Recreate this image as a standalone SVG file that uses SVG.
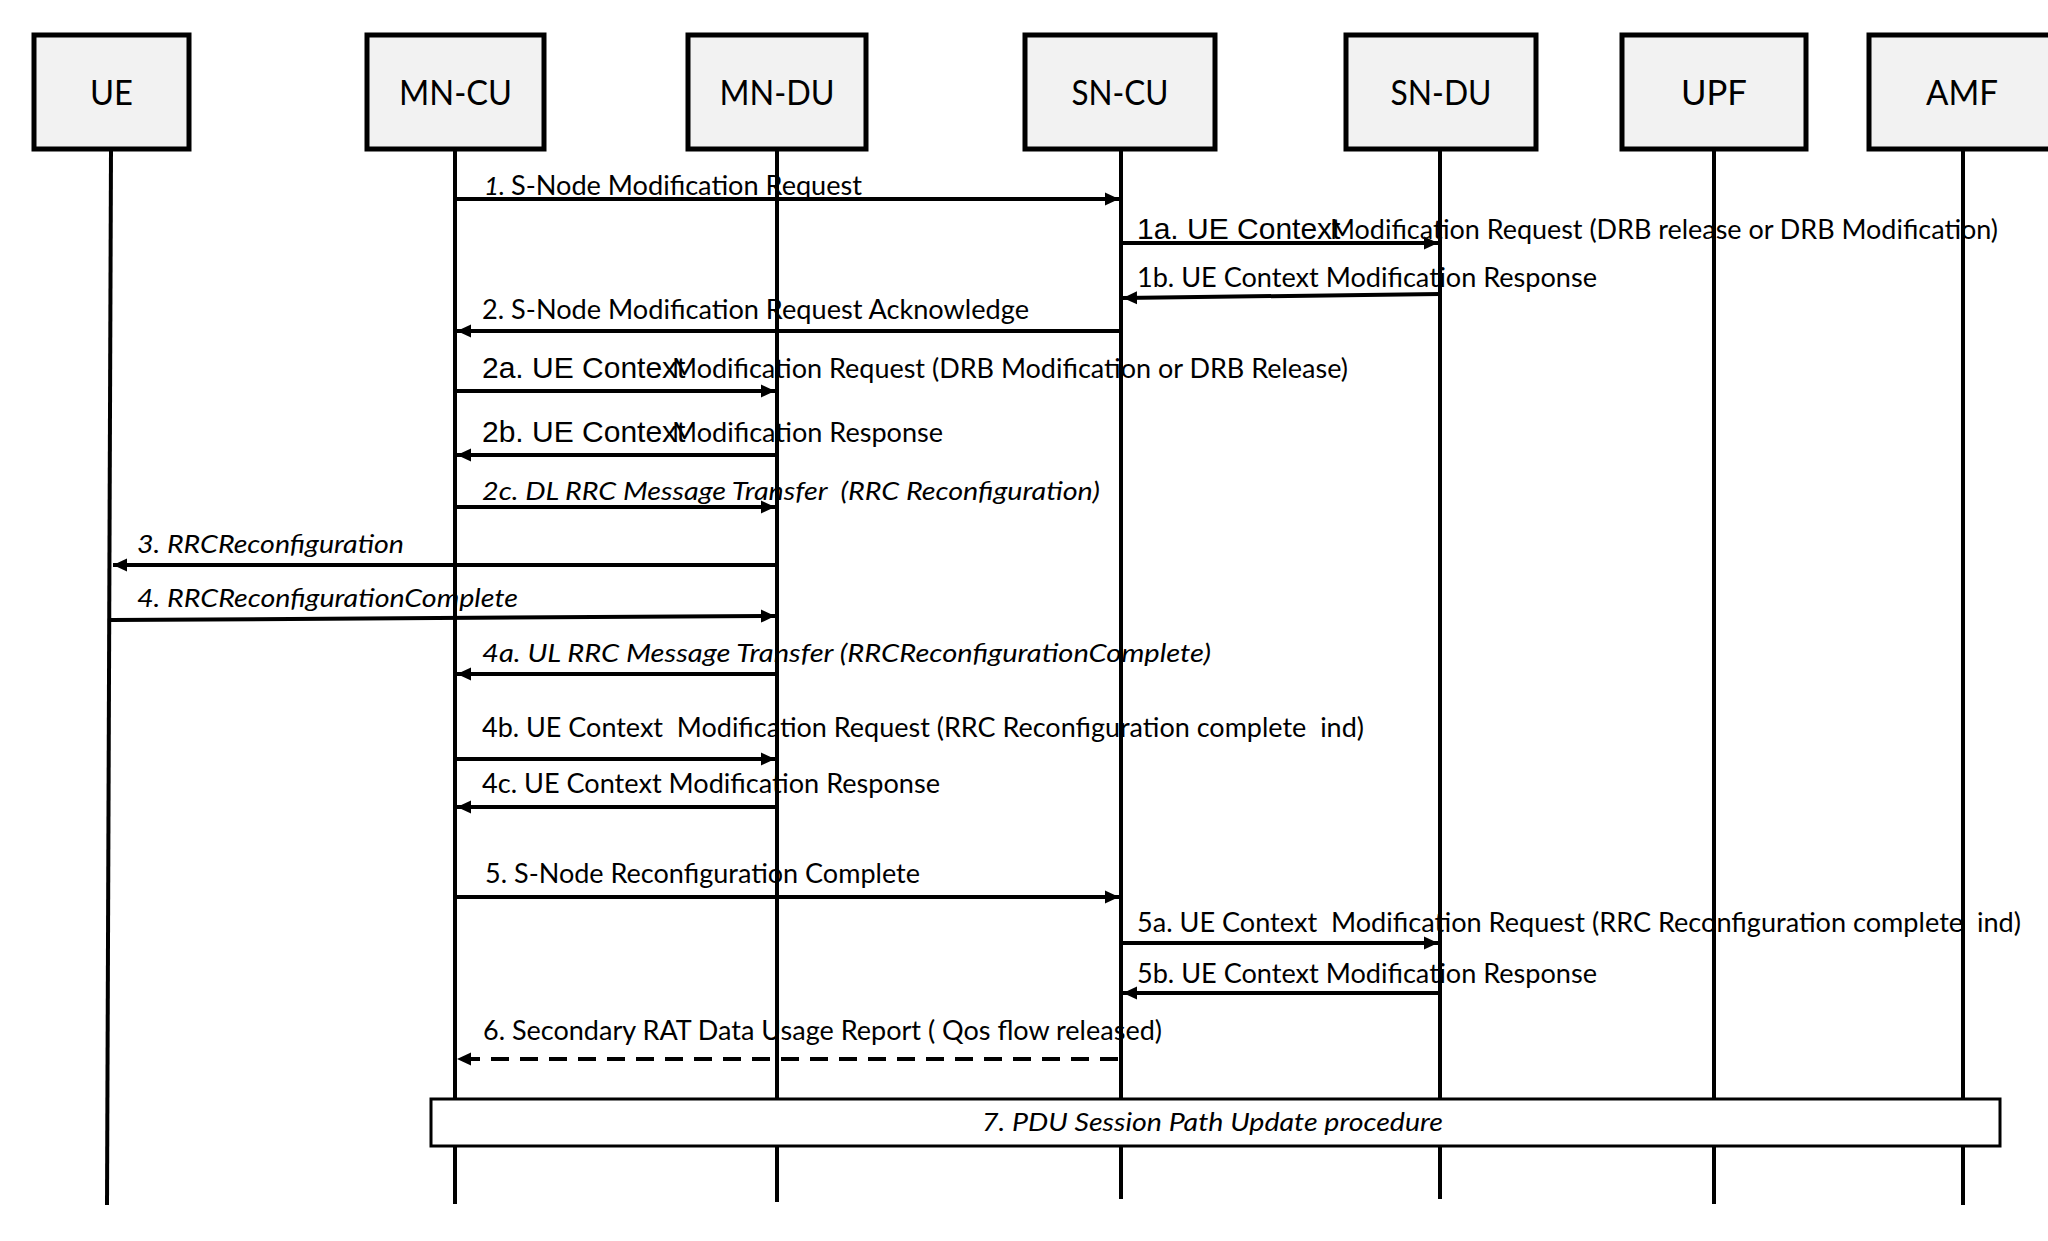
<svg xmlns="http://www.w3.org/2000/svg" width="2048" height="1241" viewBox="0 0 2048 1241">
<style>
.box{fill:#f2f2f2;stroke:#000;stroke-width:5}
.nl{font-family:Lato,"Liberation Sans",sans-serif;font-size:35px;text-anchor:middle;fill:#000}
.life{stroke:#000;stroke-width:4;fill:none}
.msg{stroke:#000;stroke-width:4;fill:none;marker-end:url(#ah)}
.dash{stroke-dasharray:18 11}
.t{font-family:Lato,"Liberation Sans",sans-serif;font-size:26px;fill:#000;white-space:pre}
.i{font-style:italic}
.a{font-family:"Liberation Sans",Arial,sans-serif;font-size:30px;fill:#000;white-space:pre}
.proc{fill:#fff;stroke:#000;stroke-width:3}
</style>
<defs>
<marker id="ah" markerUnits="userSpaceOnUse" markerWidth="16" markerHeight="16" viewBox="0 0 16 16" refX="14" refY="8" orient="auto">
<path d="M0,1.5 L14,8 L0,14.5 Z" fill="#000"/>
</marker>
</defs>
<rect width="2048" height="1241" fill="#fff"/>
<g id="lifelines">
<line class="life" x1="111" y1="149" x2="107" y2="1205"/>
<line class="life" x1="455" y1="149" x2="455" y2="1204"/>
<line class="life" x1="777" y1="149" x2="777" y2="1202"/>
<line class="life" x1="1121" y1="149" x2="1121" y2="1199"/>
<line class="life" x1="1440" y1="149" x2="1440" y2="1199"/>
<line class="life" x1="1714" y1="149" x2="1714" y2="1204"/>
<line class="life" x1="1963" y1="149" x2="1963" y2="1205"/>
</g>
<g id="node-UE"><rect class="box" x="34" y="35" width="155" height="114"/><text class="nl" x="111.5" y="105" textLength="43" lengthAdjust="spacingAndGlyphs">UE</text></g>
<g id="node-MN-CU"><rect class="box" x="367" y="35" width="177" height="114"/><text class="nl" x="455.5" y="105" textLength="113" lengthAdjust="spacingAndGlyphs">MN-CU</text></g>
<g id="node-MN-DU"><rect class="box" x="688" y="35" width="178" height="114"/><text class="nl" x="777" y="105" textLength="115" lengthAdjust="spacingAndGlyphs">MN-DU</text></g>
<g id="node-SN-CU"><rect class="box" x="1025" y="35" width="190" height="114"/><text class="nl" x="1120" y="105" textLength="97" lengthAdjust="spacingAndGlyphs">SN-CU</text></g>
<g id="node-SN-DU"><rect class="box" x="1346" y="35" width="190" height="114"/><text class="nl" x="1441" y="105" textLength="101" lengthAdjust="spacingAndGlyphs">SN-DU</text></g>
<g id="node-UPF"><rect class="box" x="1622" y="35" width="184" height="114"/><text class="nl" x="1714" y="105" textLength="66" lengthAdjust="spacingAndGlyphs">UPF</text></g>
<g id="node-AMF"><rect class="box" x="1869" y="35" width="190" height="114"/><text class="nl" x="1962" y="105" textLength="72" lengthAdjust="spacingAndGlyphs">AMF</text></g>
<g id="connectors">
<line class="msg" x1="455" y1="199" x2="1119" y2="199"/>
<line class="msg" x1="1121" y1="243" x2="1438" y2="243"/>
<line class="msg" x1="1440" y1="294" x2="1123" y2="298"/>
<line class="msg" x1="1121" y1="331" x2="457" y2="331"/>
<line class="msg" x1="455" y1="391" x2="775" y2="391"/>
<line class="msg" x1="777" y1="455" x2="457" y2="455"/>
<line class="msg" x1="455" y1="507" x2="775" y2="507"/>
<line class="msg" x1="777" y1="565" x2="113" y2="565"/>
<line class="msg" x1="111" y1="620" x2="775" y2="616"/>
<line class="msg" x1="777" y1="674" x2="457" y2="674"/>
<line class="msg" x1="455" y1="759" x2="775" y2="759"/>
<line class="msg" x1="777" y1="807" x2="457" y2="807"/>
<line class="msg" x1="455" y1="897" x2="1119" y2="897"/>
<line class="msg" x1="1121" y1="943" x2="1438" y2="943"/>
<line class="msg" x1="1440" y1="993" x2="1123" y2="993"/>
<line class="msg dash" x1="1118" y1="1059" x2="457" y2="1059"/>
</g>
<g id="labels">
<text class="t i" x="484" y="195">1.</text>
<text class="t" x="511" y="195" textLength="351" lengthAdjust="spacingAndGlyphs">S-Node Modification Request</text>
<text class="a" x="1137" y="239">1a. UE Context</text>
<text class="t" x="1330" y="239" textLength="668" lengthAdjust="spacingAndGlyphs">Modification Request (DRB release or DRB Modification)</text>
<text class="t" x="1137" y="287" textLength="460" lengthAdjust="spacingAndGlyphs">1b. UE Context Modification Response</text>
<text class="t" x="482" y="319" textLength="547" lengthAdjust="spacingAndGlyphs">2. S-Node Modification Request Acknowledge</text>
<text class="a" x="482" y="378">2a. UE Context</text>
<text class="t" x="672" y="378" textLength="676" lengthAdjust="spacingAndGlyphs">Modification Request (DRB Modification or DRB Release)</text>
<text class="a" x="482" y="442">2b. UE Context</text>
<text class="t" x="672" y="442" textLength="271" lengthAdjust="spacingAndGlyphs">Modification Response</text>
<text class="t i" x="482" y="500" textLength="618" lengthAdjust="spacingAndGlyphs">2c. DL RRC Message Transfer  (RRC Reconfiguration)</text>
<text class="t i" x="137" y="553" textLength="267" lengthAdjust="spacingAndGlyphs">3. RRCReconfiguration</text>
<text class="t i" x="137" y="607" textLength="381" lengthAdjust="spacingAndGlyphs">4. RRCReconfigurationComplete</text>
<text class="t i" x="482" y="662" textLength="729" lengthAdjust="spacingAndGlyphs">4a. UL RRC Message Transfer (RRCReconfigurationComplete)</text>
<text class="t" x="482" y="737" textLength="882" lengthAdjust="spacingAndGlyphs">4b. UE Context  Modification Request (RRC Reconfiguration complete  ind)</text>
<text class="t" x="482" y="793" textLength="458" lengthAdjust="spacingAndGlyphs">4c. UE Context Modification Response</text>
<text class="t" x="485" y="883" textLength="435" lengthAdjust="spacingAndGlyphs">5. S-Node Reconfiguration Complete</text>
<text class="t" x="1137" y="932" textLength="884" lengthAdjust="spacingAndGlyphs">5a. UE Context  Modification Request (RRC Reconfiguration complete  ind)</text>
<text class="t" x="1137" y="983" textLength="460" lengthAdjust="spacingAndGlyphs">5b. UE Context Modification Response</text>
<text class="t" x="483" y="1040" textLength="679" lengthAdjust="spacingAndGlyphs">6. Secondary RAT Data Usage Report ( Qos flow released)</text>
</g>
<g id="node-PDU-procedure">
<rect class="proc" x="431" y="1099" width="1569" height="47"/>
<text class="t i" x="982" y="1131" textLength="461" lengthAdjust="spacingAndGlyphs">7. PDU Session Path Update procedure</text>
</g>
</svg>
